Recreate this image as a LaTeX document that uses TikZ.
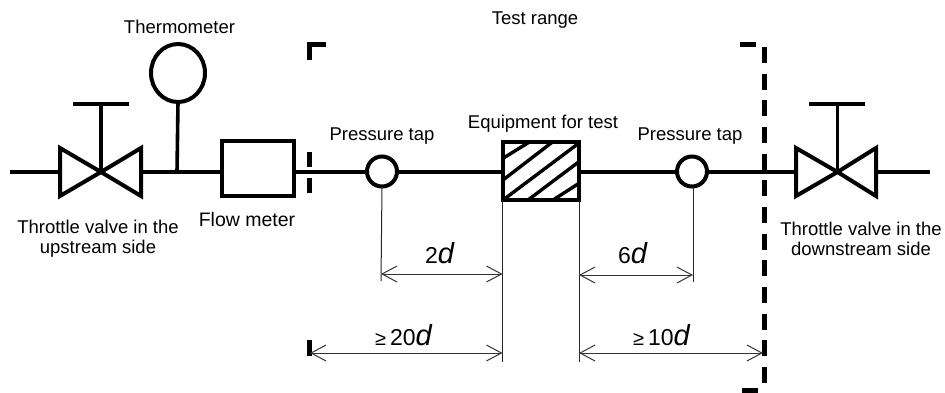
\documentclass[tikz,border=0pt]{standalone}
\usepackage{fontspec}
\setmainfont{Liberation Sans}
\usetikzlibrary{arrows.meta,shapes.geometric}
\tikzset{
  pipe/.style={line width=4.5pt,line cap=butt},
  stem/.style={line width=3.6pt,line cap=butt},
  outl/.style={line width=4pt,draw=black,fill=white,inner sep=0pt,outer sep=0pt},
  leader/.style={line width=1pt,draw=black!85},
  dim/.style={line width=1pt,draw=black!80,{Straight Barb[length=15pt,width=16pt,line width=1pt]}-{Straight Barb[length=15pt,width=16pt,line width=1pt]}},
  tick/.style={line width=5pt},
  lab/.style={inner sep=0pt,font=\fontsize{18.5}{20}\selectfont,anchor=base},
  wlab/.style={inner sep=0pt,font=\fontsize{18.5}{20}\selectfont,align=center},
  dimlab/.style={inner sep=0pt,anchor=base west,font=\fontsize{23}{24}\selectfont},
}
\newcommand{\dd}{{\fontsize{29}{28}\selectfont\itshape d}}
\newcommand{\geqm}{{\fontsize{20}{20}\selectfont ≥}}
\begin{document}
\begin{tikzpicture}[x=1pt,y=-1pt]
\useasboundingbox (0,0) rectangle (945,392);
% free ends and valve centres
\coordinate (inL) at (10,172);
\coordinate (vLa) at (60,172);
\coordinate (vLc) at (101,172);
\coordinate (vLb) at (141,172);
\coordinate (hL) at (101,104);
\coordinate (tee) at (177,172);
\coordinate (vRa) at (796,172);
\coordinate (vRc) at (837.5,172);
\coordinate (vRb) at (875.5,172);
\coordinate (hR) at (837.5,104);
\coordinate (outR) at (930,172);
% elements
\node[outl,minimum width=72pt,minimum height=55pt] (fm) at (257.5,168.5) {};
\node[outl,ellipse,minimum width=54pt,minimum height=58pt] (th) at (178,73) {};
\node[outl,circle,minimum size=30pt] (p1) at (382,171.5) {};
\node[outl,circle,minimum size=30pt] (p2) at (692,171.5) {};
\node[outl,minimum width=76pt,minimum height=58pt] (eq) at (541,171) {};
% pipes
\draw[pipe] (inL) -- (vLa);
\draw[pipe] (vLb) -- (fm.west |- vLb);
\draw[pipe] (fm.east |- vLb) -- (p1.west |- vLb);
\draw[pipe] (p1.east |- vLb) -- (eq.west |- vLb);
\draw[pipe] (eq.east |- vLb) -- (p2.west |- vLb);
\draw[pipe] (p2.east |- vLb) -- (vRa);
\draw[pipe] (vRb) -- (outR);
\draw[stem] (tee) -- (th.south);
% valves
\draw[line width=4pt,miter limit=10] (vLc) -- (60,148) -- (60,196) -- cycle;
\draw[line width=4pt,miter limit=10] (vLc) -- (141,148) -- (141,196) -- cycle;
\draw[stem] (vLc) -- (hL);
\draw[pipe] (73,104) -- (129,104);
\draw[line width=4pt,miter limit=10] (vRc) -- (796,148) -- (796,196) -- cycle;
\draw[line width=4pt,miter limit=10] (vRc) -- (876,148) -- (876,196) -- cycle;
\draw[stem] (vRc) -- (hR);
\draw[pipe] (809,104) -- (865,104);
% hatching
\begin{scope}
\clip (503,142) rectangle (579,200);
\draw[line width=3.4pt] (503,158.3) -- (530,141.6);
\draw[line width=3.4pt] (503,180) -- (553,141.6);
\draw[line width=3.4pt] (503,200) -- (579,143);
\draw[line width=3.4pt] (528,200) -- (579,161.7);
\draw[line width=3.4pt] (553,200) -- (579,183.3);
\end{scope}
\draw[line width=4pt] (eq.south west) rectangle (eq.north east);
% test range marks
\draw[tick] (326,44.5) -- (309.5,44.5) -- (309.5,60);
\draw[tick] (309,152) -- (309,167);
\draw[tick] (309,178) -- (309,193);
\draw[tick] (309,340) -- (309,356);
\draw[tick,dash pattern=on 16pt off 10.67pt] (764,47) -- (764,387);
\draw[tick] (740,44) -- (756,44);
\draw[tick] (742,390) -- (758,390);
% extension lines
\coordinate (e1) at (502.5,362);
\coordinate (e2) at (579,362);
\coordinate (l1) at (381,281);
\coordinate (l2) at (693,282);
\draw[leader] (p1.south) -- (l1);
\draw[leader] (p2.south -| l2) -- (l2);
\draw[leader] (eq.south west -| e1) -- (e1);
\draw[leader] (eq.south east -| e2) -- (e2);
% dimensions
\coordinate (a1) at (381,274);
\coordinate (b1) at (502.5,274);
\coordinate (a2) at (579,275);
\coordinate (b2) at (693,275);
\coordinate (a3) at (310,353);
\coordinate (b3) at (502.5,353);
\coordinate (a4) at (579,353);
\coordinate (b4) at (763,353);
\draw[dim] (a1) -- (b1);
\draw[dim] (a2) -- (b2);
\draw[dim] (a3) -- (b3);
\draw[dim] (a4) -- (b4);
% labels
\node[lab] (tTherm) at (179.5,33) {Thermometer};
\node[lab] (tRange) at (535,24) {Test range};
\node[lab] (tP1) at (382,140) {Pressure tap};
\node[lab] (tEq) at (543,128) {Equipment for test};
\node[lab] (tP2) at (690,140) {Pressure tap};
\node[lab,font=\fontsize{19.5}{20}\selectfont] (tFm) at (247,226.5) {Flow meter};
\node[wlab] (tVL) at (98,239) {Throttle valve in the\\upstream side};
\node[wlab] (tVR) at (861,239) {Throttle valve in the\\downstream side};
\node[dimlab] (d1) at (425,263) {2\dd};
\node[dimlab] (d2) at (618,263) {6\dd};
\node[dimlab] (d3) at (375,345) {\geqm\,20\dd};
\node[dimlab] (d4) at (633,345) {\geqm\,10\dd};
\end{tikzpicture}
\end{document}
